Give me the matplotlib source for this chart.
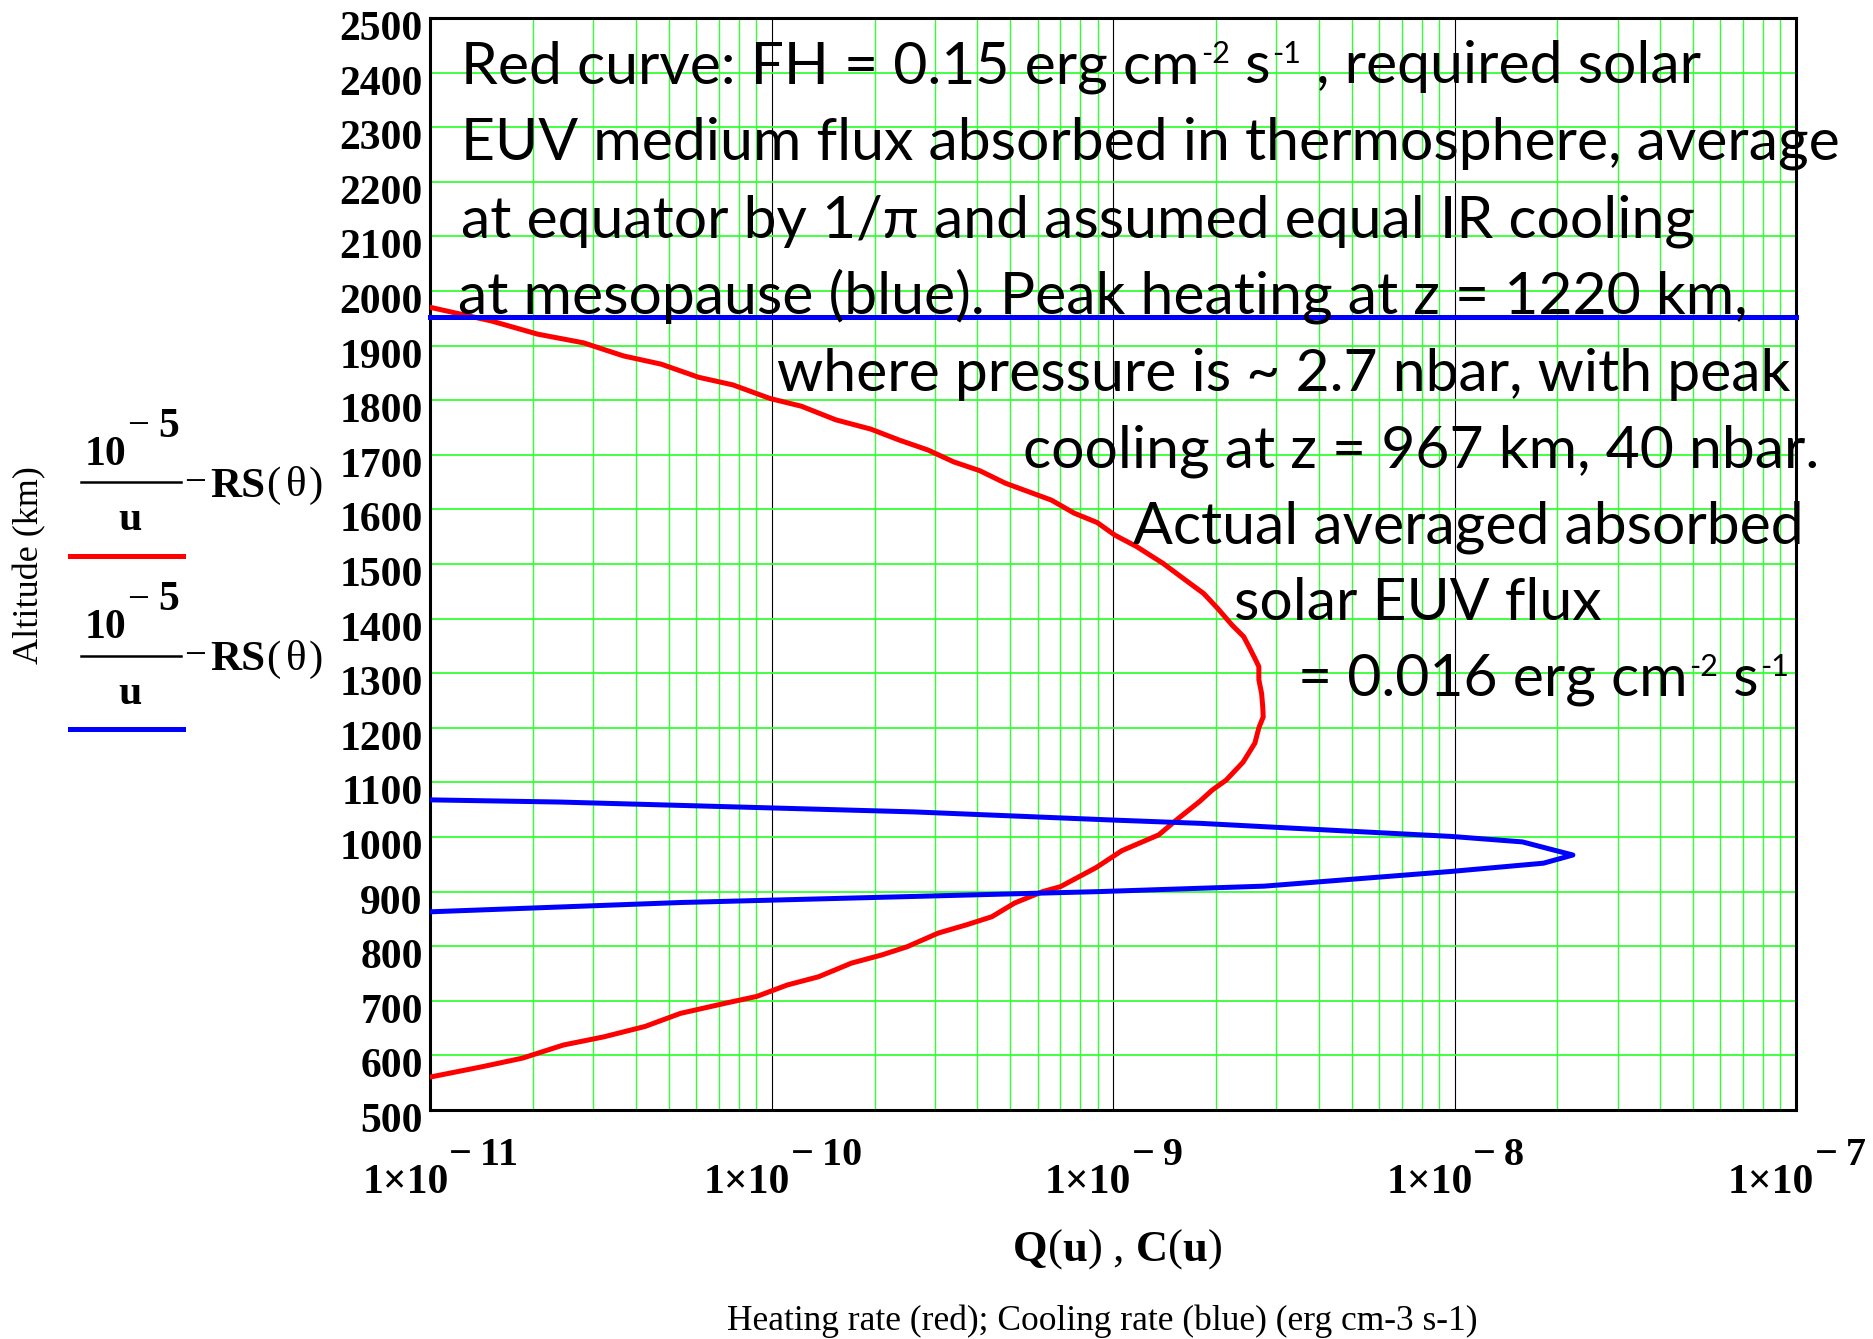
import matplotlib
matplotlib.use("Agg")
import matplotlib.pyplot as plt
from matplotlib.lines import Line2D
from matplotlib.ticker import LogLocator, FixedLocator, NullFormatter

# ---------------------------------------------------------------- data
# Heating rate Q (erg cm-3 s-1) versus altitude (km)
heat_alt = [1970, 1945, 1921, 1905, 1881, 1866, 1842, 1828, 1803, 1789,
            1764, 1747, 1727, 1709, 1687, 1671, 1648, 1617, 1593, 1576,
            1553, 1532, 1501, 1474, 1446, 1419, 1388, 1367, 1346, 1327,
            1312, 1288, 1263, 1240, 1220, 1200, 1172, 1137, 1104, 1086,
            1065, 1031, 1004, 975, 944, 909, 900, 879, 854, 839,
            824, 799, 784, 769, 744, 729, 708, 696, 677, 653,
            634, 619, 595, 579, 561]
heat_q = [1.00e-11, 1.51e-11, 2.06e-11, 2.81e-11, 3.68e-11, 4.74e-11, 6.10e-11, 7.69e-11, 9.89e-11, 1.22e-10,
          1.54e-10, 1.95e-10, 2.36e-10, 2.86e-10, 3.41e-10, 4.06e-10, 4.83e-10, 6.59e-10, 7.69e-10, 8.97e-10,
          1.01e-9, 1.17e-9, 1.40e-9, 1.60e-9, 1.84e-9, 2.02e-9, 2.23e-9, 2.41e-9, 2.51e-9, 2.60e-9,
          2.67e-9, 2.67e-9, 2.72e-9, 2.74e-9, 2.75e-9, 2.67e-9, 2.60e-9, 2.40e-9, 2.14e-9, 1.95e-9,
          1.79e-9, 1.53e-9, 1.36e-9, 1.06e-9, 8.91e-10, 7.00e-10, 6.21e-10, 5.14e-10, 4.41e-10, 3.71e-10,
          3.07e-10, 2.49e-10, 2.10e-10, 1.71e-10, 1.37e-10, 1.11e-10, 9.03e-11, 7.36e-11, 5.40e-11, 4.25e-11,
          3.22e-11, 2.45e-11, 1.86e-11, 1.41e-11, 1.01e-11]

# Cooling rate C (erg cm-3 s-1) versus altitude (km)
cool_alt = [1068, 1064, 1046, 1031, 1025, 1014, 1001, 991, 967, 952,
            937, 910, 900, 880, 863]
cool_c = [1.00e-11, 2.40e-11, 2.60e-10, 1.00e-9, 1.80e-9, 3.90e-9, 9.80e-9, 1.58e-8, 2.22e-8, 1.82e-8,
          9.80e-9, 2.77e-9, 9.10e-10, 5.40e-11, 1.00e-11]

# Mesopause cooling level
meso_alt = 1953
meso_x = [1e-11, 1e-7]

alt_ticks = list(range(500, 2501, 100))
decade_ticks = [1e-11, 1e-10, 1e-9, 1e-8, 1e-7]
decade_exps = ["\u2212\u200911", "\u2212\u200910", "\u2212\u20099", "\u2212\u20098", "\u2212\u20097"]

# annotation text; (text, is_superscript) pieces for lines carrying units
note_first = [("Red curve: FH = 0.15 erg cm", False), ("-2", True), (" s", False),
              ("-1", True), (" , required solar", False)]
note_lines = [
    "EUV medium flux absorbed in thermosphere, average",
    "at equator by 1/\u03c0 and assumed equal IR cooling",
    "at mesopause (blue). Peak heating at z = 1220 km,",
    "where pressure is ~ 2.7 nbar, with peak",
    "cooling at z = 967 km, 40 nbar.",
    "Actual averaged absorbed",
    "solar EUV flux",
]
note_last = [("= 0.016 erg cm", False), ("-2", True), (" s", False), ("-1", True)]

# ---------------------------------------------------------------- style
SERIF = "Liberation Serif"
NOTE_FONT = "Lato"
NOTE_SIZE = 42.4
SUP_SIZE = 22
GREEN = "#33ff33"

W, H = 1874, 1339
fig = plt.figure(figsize=(W / 100, H / 100), dpi=100)


def fx(x):
    return x / W


def fy(y):
    return 1 - y / H


ax = fig.add_axes([fx(430.5), fy(1110), fx(1796) - fx(430.5), fy(18) - fy(1110)])
ax.set_xscale("log")
ax.set_xlim(1e-11, 1e-7)
ax.set_ylim(500, 2500)

ax.xaxis.set_major_locator(FixedLocator(decade_ticks))
ax.xaxis.set_minor_locator(LogLocator(base=10, subs=range(2, 10), numticks=20))
ax.xaxis.set_minor_formatter(NullFormatter())
ax.yaxis.set_major_locator(FixedLocator(alt_ticks))
ax.tick_params(which="both", length=0, labelbottom=False, labelleft=False)

ax.grid(which="minor", axis="x", color=GREEN, lw=1.0, zorder=0)
ax.grid(which="major", axis="y", color=GREEN, lw=1.3, zorder=0)
ax.grid(which="major", axis="x", color="black", lw=0.8, zorder=0)
ax.set_axisbelow(True)
for sp in ax.spines.values():
    sp.set_linewidth(2.2)
    sp.set_color("black")

# curves
ax.plot(heat_q, heat_alt, color="#ff0000", lw=3.6, zorder=3)
ax.plot(cool_c, cool_alt, color="#0000ff", lw=3.6, zorder=4)
ax.plot(meso_x, [meso_alt, meso_alt], color="#0000ff", lw=3.6, zorder=4,
        solid_capstyle="projecting", clip_on=False)

# y tick labels
for a in alt_ticks:
    ax.annotate(str(a), xy=(0, a), xycoords=("axes fraction", "data"),
                xytext=(-5.5, -15.8), textcoords="offset points",
                ha="right", va="baseline", fontsize=30, fontweight="bold",
                family=SERIF, annotation_clip=False)

# x tick labels: 1x10 with raised exponent
for d, e in zip(decade_ticks, decade_exps):
    ax.annotate("1\u00d710", xy=(d, 0), xycoords=("data", "axes fraction"),
                xytext=(13, -60), textcoords="offset points",
                ha="right", va="baseline", fontsize=30, fontweight="bold",
                family=SERIF, annotation_clip=False)
    ax.annotate(e, xy=(d, 0), xycoords=("data", "axes fraction"),
                xytext=(13.5, -39.5), textcoords="offset points",
                ha="left", va="baseline", fontsize=29, fontweight="bold",
                family=SERIF, annotation_clip=False)

# x label "Q(u) , C(u)" with bold symbols and plain parentheses
xl_parts = [("Q", "bold"), ("(", "normal"), ("u", "bold"), (")", "normal"),
            (" , ", "normal"), ("C", "bold"), ("(", "normal"), ("u", "bold"),
            (")", "normal")]
prev = fig.text(fx(1013), fy(1261), xl_parts[0][0], fontsize=32,
                fontweight=xl_parts[0][1], family=SERIF, va="baseline")
for txt, wt in xl_parts[1:]:
    prev = ax.annotate(txt, xy=(1, fy(1261)), xycoords=(prev, "figure fraction"),
                       ha="left", va="baseline", fontsize=32, fontweight=wt,
                       family=SERIF, annotation_clip=False)

fig.text(fx(1102), fy(1330), "Heating rate (red); Cooling rate (blue) (erg cm-3 s-1)",
         ha="center", va="baseline", fontsize=25.5, family=SERIF)

fig.text(fx(30), fy(565), "Altitude (km)", rotation=90, ha="center", va="center",
         fontsize=26, family=SERIF)

# trace legend on the left
for dy, col in [(0, "#ff0000"), (173.5, "#0000ff")]:
    fig.text(fx(85), fy(465 + dy), "10", fontsize=30, fontweight="bold", family=SERIF,
             va="baseline")
    fig.text(fx(127), fy(436 + dy), "\u2212", fontsize=28, family=SERIF, va="baseline")
    fig.text(fx(158), fy(437 + dy), "5", fontsize=30, fontweight="bold", family=SERIF,
             va="baseline")
    fig.add_artist(Line2D([fx(81), fx(181)], [fy(482 + dy)] * 2, color="black", lw=1.8,
                          transform=fig.transFigure))
    fig.text(fx(118), fy(530 + dy), "u", fontsize=30, fontweight="bold", family=SERIF,
             va="baseline")
    fig.text(fx(184), fy(493 + dy), "\u2212", fontsize=28, family=SERIF, va="baseline")
    fig.text(fx(210), fy(497 + dy), "RS", fontsize=31, fontweight="bold", family=SERIF,
             va="baseline")
    for ch, x in [("(", 266), ("\u03b8", 286), (")", 309)]:
        fig.text(fx(x), fy(496 + dy), ch, fontsize=31, family=SERIF, va="baseline")
    fig.add_artist(Line2D([fx(70), fx(183)], [fy(555.5 + dy)] * 2, color=col, lw=3.6,
                          transform=fig.transFigure))


# annotation block
def note_with_units(x0, y0, parts):
    yf = fy(y0)
    prev = None
    for txt, sup in parts:
        kw = dict(family=NOTE_FONT, va="baseline", ha="left", zorder=10,
                  fontsize=SUP_SIZE if sup else NOTE_SIZE)
        if prev is None:
            prev = fig.text(fx(x0), yf, txt, **kw)
        else:
            prev = ax.annotate(txt, xy=(1, yf), xycoords=(prev, "figure fraction"),
                               xytext=(1 if sup else 0, 14.5 if sup else 0),
                               textcoords="offset points", annotation_clip=False, **kw)


note_with_units(461, 83, note_first)
note_pos = [(461, 160, "left"), (461, 237, "left"), (458, 313, "left"),
            (1284, 391, "center"), (1421, 467, "center"), (1468, 543, "center"),
            (1418, 620, "center")]
for txt, (x, y, ha) in zip(note_lines, note_pos):
    fig.text(fx(x), fy(y), txt, ha=ha, va="baseline", fontsize=NOTE_SIZE,
             family=NOTE_FONT, zorder=10)
note_with_units(1298, 696, note_last)

fig.savefig("out.png", dpi=100)
